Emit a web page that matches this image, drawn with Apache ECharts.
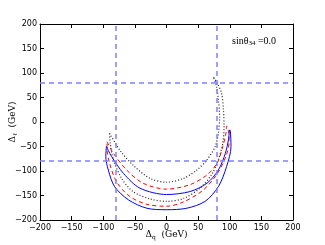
<!DOCTYPE html>
<html><head><meta charset="utf-8">
<script src="https://cdn.jsdelivr.net/npm/echarts@6/dist/echarts.min.js"></script>
<style>html,body{margin:0;padding:0;background:#fff}#c{width:325px;height:245px}</style>
</head><body><div id="c"></div>
<script>
var xTicks = [-200,-150,-100,-50,0,50,100,150,200];
var yTicks = [-200,-150,-100,-50,0,50,100,150,200];
var refLinesX = [-80, 80];
var refLinesY = [-80, 80];
// closed contours (black dotted, red dashed, blue solid)
var blackDotted = [[-90,-23],[-74,-57],[-53,-88],[-26,-115],[0,-123],[27,-115],[48,-98],[64,-77],[77,-50],[82,-23],[84,11],[82,45],[79,73],[74,92],
  [80,80],[87,59],[90,25],[91,-9],[89,-43],[82,-77],[71,-108],[53,-135],[27,-156],[0,-162],[-26,-157],[-53,-142],[-71,-115],[-84,-77],[-89,-43],[-90,-23]];
var redDashed = [[-94,-40],[-84,-64],[-63,-98],[-37,-125],[0,-137],[37,-128],[64,-108],[80,-84],[89,-50],[94,-23],[95,-8],
  [98,-20],[99,-40],[94,-70],[80,-106],[58,-139],[27,-163],[0,-172],[-31,-168],[-58,-152],[-79,-122],[-90,-84],[-94,-55],[-94,-40]];
var blueSolid = [[-95,-50],[-87,-70],[-68,-105],[-42,-135],[0,-148],[37,-142],[64,-125],[82,-98],[93,-64],[98,-36],[100,-16],
  [101,-19],[102,-50],[95,-91],[82,-132],[61,-162],[32,-176],[0,-179],[-31,-176],[-60,-159],[-82,-132],[-92,-98],[-96,-70],[-95,-50]];

var chart = echarts.init(document.getElementById('c'), null, {renderer:'canvas'});
var fmt = function(v){ return String(v).replace('-', '\u2212'); };
var refStyle = {color:'#8080ff', width:1.5, type:[5,4]};
var markData = [];
refLinesX.forEach(function(v){ markData.push({xAxis:v}); });
refLinesY.forEach(function(v){ markData.push({yAxis:v}); });
var baseAxis = {
  type:'value', min:-200, max:200, interval:50,
  axisLine:{show:true, onZero:false, lineStyle:{color:'#000', width:1}},
  axisTick:{show:true, inside:true, length:4, lineStyle:{color:'#000'}},
  splitLine:{show:false},
  axisLabel:{fontSize:8, color:'#000', fontFamily:'DejaVu Sans', formatter:fmt}
};
var opt = {
  animation:false,
  grid:{left:40, right:32, top:24, bottom:25, containLabel:false, outerBoundsMode:'none'},
  xAxis:[
    Object.assign({}, baseAxis, {position:'bottom', axisLabel:Object.assign({}, baseAxis.axisLabel, {margin:4}),
      name:'{a|\u0394}{s|q}{a|  (GeV)}', nameLocation:'middle', nameGap:9, nameMoveOverlap:false,
      nameTextStyle:{rich:{a:{fontFamily:'DejaVu Serif', fontSize:9, color:'#000'}, s:{fontFamily:'DejaVu Serif', fontSize:6, color:'#000', padding:[5,0,0,0]}}}}),
    Object.assign({}, baseAxis, {position:'top', axisLabel:{show:false}})
  ],
  yAxis:[
    Object.assign({}, baseAxis, {position:'left', axisLabel:Object.assign({}, baseAxis.axisLabel, {margin:3}),
      name:'{a|\u0394}{s|\u2113}{a|  (GeV)}', nameLocation:'middle', nameGap:22, nameMoveOverlap:false,
      nameTextStyle:{rich:{a:{fontFamily:'DejaVu Serif', fontSize:9, color:'#000'}, s:{fontFamily:'DejaVu Serif', fontSize:6, color:'#000', padding:[5,0,0,0]}}}}),
    Object.assign({}, baseAxis, {position:'right', axisLabel:{show:false}})
  ],
  graphic:[{type:'text', left:232, top:36, style:{text:'sin\u03b8{s|34} =0.0', font:'10px "Liberation Serif"', fill:'#000',
    rich:{s:{fontFamily:'Liberation Serif', fontSize:7, padding:[5,0,0,0], fill:'#000'}}}}],
  series:[
    {type:'line', data:[], markLine:{silent:true, symbol:'none', label:{show:false}, lineStyle:refStyle, data:markData}},
    {type:'line', data:blackDotted, showSymbol:false, smooth:0.3, lineStyle:{color:'#222', width:1.2, type:[1,2]}},
    {type:'line', data:redDashed, showSymbol:false, smooth:0.3, lineStyle:{color:'#ff0000', width:1, type:[4,3]}},
    {type:'line', data:blueSolid, showSymbol:false, smooth:0.3, lineStyle:{color:'#0000ff', width:1}}
  ]
};
chart.setOption(opt);
</script></body></html>
